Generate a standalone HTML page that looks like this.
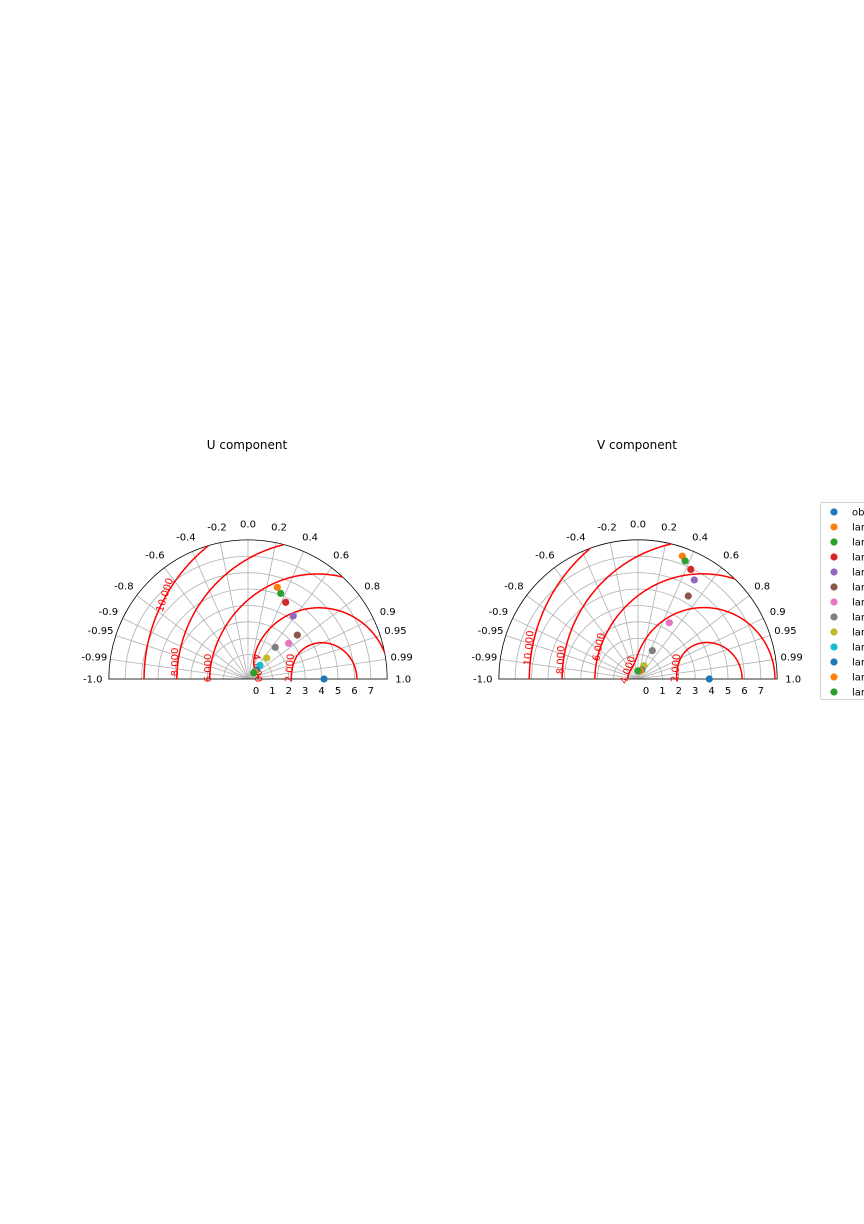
<!DOCTYPE html>
<html><head><meta charset="utf-8"><style>
html,body{margin:0;padding:0;background:#fff;}
svg{display:block;font-family:"DejaVu Sans","Liberation Sans",sans-serif;}
</style></head><body>
<svg id="svg" width="864" height="1224" viewBox="0 0 864 1224"></svg>
<script>
const seriesNames = ["obs","lam1","lam2","lam3","lam4","lam5","lam6","lam7","lam8","lam9","lam10","lam11","lam12"];
const colors = ["#1f77b4","#ff7f0e","#2ca02c","#d62728","#9467bd","#8c564b","#e377c2","#7f7f7f","#bcbd22","#17becf","#1f77b4","#ff7f0e","#2ca02c"];
const uStd  = [4.15,5.38,5.10,4.72,4.24,3.54,2.81,2.06,1.23,0.62,0.27,0.12,0.02];
const uCorr = [1.0,0.304,0.357,0.441,0.583,0.747,0.752,0.652,0.665,0.66,0.69,0.707,0.68];
const vStd  = [3.86,7.48,7.26,6.93,6.46,5.43,3.44,1.45,0.40,0.10,0.10,0.04,0.01];
const vCorr = [1.0,0.339,0.371,0.434,0.494,0.518,0.486,0.45,0.41,0.38,0.39,0.31,0.0];
const corrTicks = [-1.0,-0.99,-0.95,-0.9,-0.8,-0.6,-0.4,-0.2,0.0,0.2,0.4,0.6,0.8,0.9,0.95,0.99,1.0];
const corrTickLabels = ["-1.0","-0.99","-0.95","-0.9","-0.8","-0.6","-0.4","-0.2","0.0","0.2","0.4","0.6","0.8","0.9","0.95","0.99","1.0"];
const stdTicks = [0,1,2,3,4,5,6,7];
const rmsLevels = [2,4,6,8,10];
const rmsLabels = ["2.000","4.000","6.000","8.000","10.000"];

const NS="http://www.w3.org/2000/svg";
const svg=document.getElementById('svg');
const RMAX=8, ROFF=8, SCALE=16.4;
function mk(tag,attrs,parent){const e=document.createElementNS(NS,tag);for(const k in attrs)e.setAttribute(k,attrs[k]);(parent||svg).appendChild(e);return e;}
function rpx(s){return ROFF+SCALE*s;}

function drawPanel(cx,cy,title,stds,corrs,key,labelSpots){
  const g=mk('g',{});
  
  
  const P=(s,th)=>[cx+rpx(s)*Math.cos(th), cy-rpx(s)*Math.sin(th)];
  // title
  const t=mk('text',{x:cx-1,y:449,'font-size':12,'text-anchor':'middle',fill:'#000'},g);
  t.textContent=title;
  
  
  // grid circles
  for(const s of stdTicks){ if(s===0) continue;
    const r=rpx(s);
    const c=mk('path',{d:`M${cx-r},${cy} A${r},${r} 0 0 1 ${cx+r},${cy}`,fill:'none',stroke:'#b0b0b0','stroke-width':0.8},g);
    
    
  }
  // radial lines & labels
  corrTicks.forEach((c,i)=>{
    const th=Math.acos(c);
    const [x2,y2]=P(RMAX,th);
    const l=mk('line',{x1:cx,y1:cy,x2:x2,y2:y2,stroke:'#b0b0b0','stroke-width':0.8},g);
    
    
    const lr=rpx(RMAX)+16;
    const tx=mk('text',{x:cx+lr*Math.cos(th),y:cy-lr*Math.sin(th)+3.5,'font-size':10,'text-anchor':'middle',fill:'#000'},g);
    tx.textContent=corrTickLabels[i];
    
    
  });
  // outer frame
  const R=rpx(RMAX);
  const fr=mk('path',{d:`M${cx-R},${cy} A${R},${R} 0 0 1 ${cx+R},${cy} Z`,fill:'none',stroke:'#000','stroke-width':0.8},g);
  
  
  // std tick labels
  stdTicks.forEach(s=>{
    const tx=mk('text',{x:cx+rpx(s),y:cy+15,'font-size':10,'text-anchor':'middle',fill:'#000'},g);
    tx.textContent=String(s);
    
    
  });
  // RMS contours
  const so=stds[0];
  rmsLevels.forEach((d,li)=>{
    let segs=[],cur=[];
    for(let k=0;k<=720;k++){
      const ph=Math.PI*k/720;
      const x=so+d*Math.cos(ph), y=d*Math.sin(ph);
      const s=Math.hypot(x,y);
      if(y>=0 && s<=RMAX){ const th=Math.atan2(y,x); cur.push(P(s,th)); }
      else { if(cur.length>1) segs.push(cur); cur=[]; }
    }
    if(cur.length>1) segs.push(cur);
    segs.forEach(sg=>{
      const p=mk('path',{d:'M'+sg.map(q=>q[0].toFixed(2)+','+q[1].toFixed(2)).join('L'),fill:'none',stroke:'red','stroke-width':1.5},g);
      
      
    });
    const sp=labelSpots[li];
    const tl=mk('text',{x:0,y:0,'font-size':10,'text-anchor':'middle',fill:'red',transform:`translate(${sp[0]},${sp[1]}) rotate(${sp[2]})`,'dominant-baseline':'middle'},g);
    tl.textContent=rmsLabels[li];
    
    
  });
  // points
  stds.forEach((s,i)=>{
    const [x,y]=P(s,Math.acos(corrs[i]));
    const c=mk('circle',{cx:x,cy:y,r:3.6,fill:colors[i]},g);
    
    
  });
}
drawPanel(248,679,'U component',uStd,uCorr,'u',
  [[290,668,-85],[257,668,85],[208,668,-90],[175,662,-90],[165,595,-72]]);
drawPanel(638,679,'V component',vStd,vCorr,'v',
  [[676,668,-85],[628,670,-72],[599,647,-78],[561,660,-88],[529,648,-85]]);

// legend
const lg=mk('g',{});


const box=mk('rect',{x:820.5,y:502.5,width:60,height:197,rx:2,fill:'#fff',stroke:'#d0d0d0','stroke-width':1},lg);


seriesNames.forEach((n,i)=>{
  const y=512+15*i;
  const c=mk('circle',{cx:834,cy:y,r:3.6,fill:colors[i]},lg);
  
  
  const t=mk('text',{x:852,y:y+3.5,'font-size':10,fill:'#000'},lg);
  t.textContent=n;
  
  
});
</script>
</body></html>
